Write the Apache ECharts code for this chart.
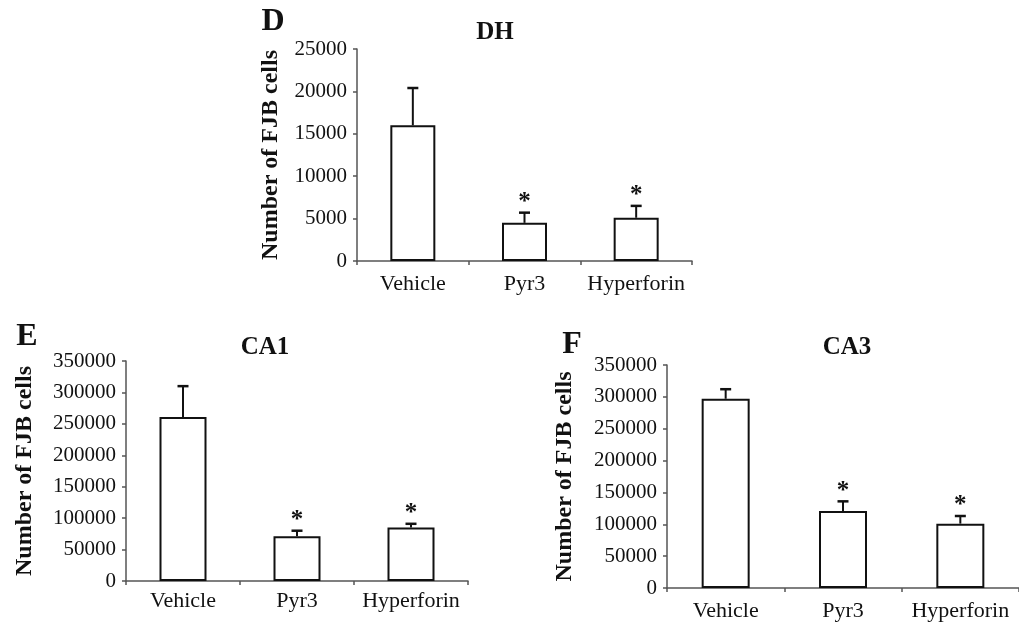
<!DOCTYPE html>
<html>
<head>
<meta charset="utf-8">
<script src="https://cdn.jsdelivr.net/npm/echarts@6/dist/echarts.min.js"></script>
<style>html,body{margin:0;padding:0;background:#fff;}#c{width:1019px;height:626px;}</style>
</head>
<body>
<div id="c"></div>
<script>
const categories = ['Vehicle', 'Pyr3', 'Hyperforin'];
const dhMean = [16000, 4500, 5100];
const dhSem = [4400, 1200, 1400];
const ca1Mean = [261000, 71000, 85000];
const ca1Sem = [49000, 9000, 6000];
const ca3Mean = [297000, 121000, 101000];
const ca3Sem = [15000, 15000, 12000];
const significant = [false, true, true];
const dhTicks = {max: 25000, interval: 5000};
const caTicks = {max: 350000, interval: 50000};
const yName = 'Number of FJB cells';

const FONT = 'Liberation Serif';
const chart = echarts.init(document.getElementById('c'), null, {renderer: 'canvas'});

const grids = [
  {left: 357, top: 49, width: 335, height: 212},
  {left: 126, top: 361, width: 342, height: 220},
  {left: 667, top: 365, width: 355, height: 223}
];
const panels = [
  {mean: dhMean, sem: dhSem, ticks: dhTicks, nameGap: 74, labelMargin: 12, barW: 45},
  {mean: ca1Mean, sem: ca1Sem, ticks: caTicks, nameGap: 89, labelMargin: 9, barW: 47},
  {mean: ca3Mean, sem: ca3Sem, ticks: caTicks, nameGap: 90, labelMargin: 12, barW: 48}
];

const xAxis = [], yAxis = [], series = [];
panels.forEach((p, i) => {
  xAxis.push({
    type: 'category', gridIndex: i, data: categories,
    axisLine: {lineStyle: {color: '#555', width: 1.5}},
    axisTick: {show: true, length: 4, lineStyle: {color: '#555', width: 1.5}},
    axisLabel: {interval: 0, fontFamily: FONT, fontSize: 22, color: '#111', margin: p.labelMargin}
  });
  yAxis.push({
    type: 'value', gridIndex: i, min: 0, max: p.ticks.max, interval: p.ticks.interval,
    name: yName, nameLocation: 'middle', nameGap: p.nameGap, nameRotate: 90,
    nameTextStyle: {fontFamily: FONT, fontSize: 24, fontWeight: 'bold', color: '#111'},
    axisLine: {show: true, lineStyle: {color: '#555', width: 1.5}},
    axisTick: {show: true, length: 4, lineStyle: {color: '#555', width: 1.5}},
    axisLabel: {fontFamily: FONT, fontSize: 21, color: '#111', margin: 10, formatter: v => String(v)},
    splitLine: {show: false}
  });
  series.push({
    type: 'bar', xAxisIndex: i, yAxisIndex: i, data: p.mean, barWidth: p.barW,
    itemStyle: {color: '#fff', borderColor: '#111', borderWidth: 2},
    silent: true, animation: false
  });
  const errData = p.mean.map((m, k) => [k, m + p.sem[k], m, significant[k] ? 1 : 0]);
  series.push({
    type: 'custom', xAxisIndex: i, yAxisIndex: i, data: errData, animation: false, silent: true,
    z: 5,
    renderItem: function (params, api) {
      const top = api.coord([api.value(0), api.value(1)]);
      const base = api.coord([api.value(0), api.value(2)]);
      const cap = 5.5;
      const children = [
        {type: 'line', shape: {x1: top[0], y1: base[1], x2: top[0], y2: top[1]}, style: {stroke: '#111', lineWidth: 2}},
        {type: 'line', shape: {x1: top[0] - cap, y1: top[1], x2: top[0] + cap, y2: top[1]}, style: {stroke: '#111', lineWidth: 2.5}}
      ];
      if (api.value(3)) {
        children.push({type: 'text', x: top[0], y: top[1] - 10,
          style: {text: '*', fontFamily: FONT, fontSize: 25, fontWeight: 'bold', fill: '#111', align: 'center', verticalAlign: 'middle'}});
      }
      return {type: 'group', children: children};
    }
  });
});

const textEl = (txt, x, y, size) => ({
  type: 'text', x: x, y: y,
  style: {text: txt, fontFamily: FONT, fontSize: size, fontWeight: 'bold', fill: '#111', align: 'center', verticalAlign: 'middle'}
});

chart.setOption({
  backgroundColor: '#fff',
  animation: false,
  grid: grids,
  xAxis: xAxis,
  yAxis: yAxis,
  series: series,
  graphic: [
    textEl('D', 273, 22, 32),
    textEl('DH', 495, 33, 25),
    textEl('E', 27, 337, 32),
    textEl('CA1', 265, 348, 25),
    textEl('F', 572, 345, 32),
    textEl('CA3', 847, 348, 25)
  ]
});
</script>
</body>
</html>
